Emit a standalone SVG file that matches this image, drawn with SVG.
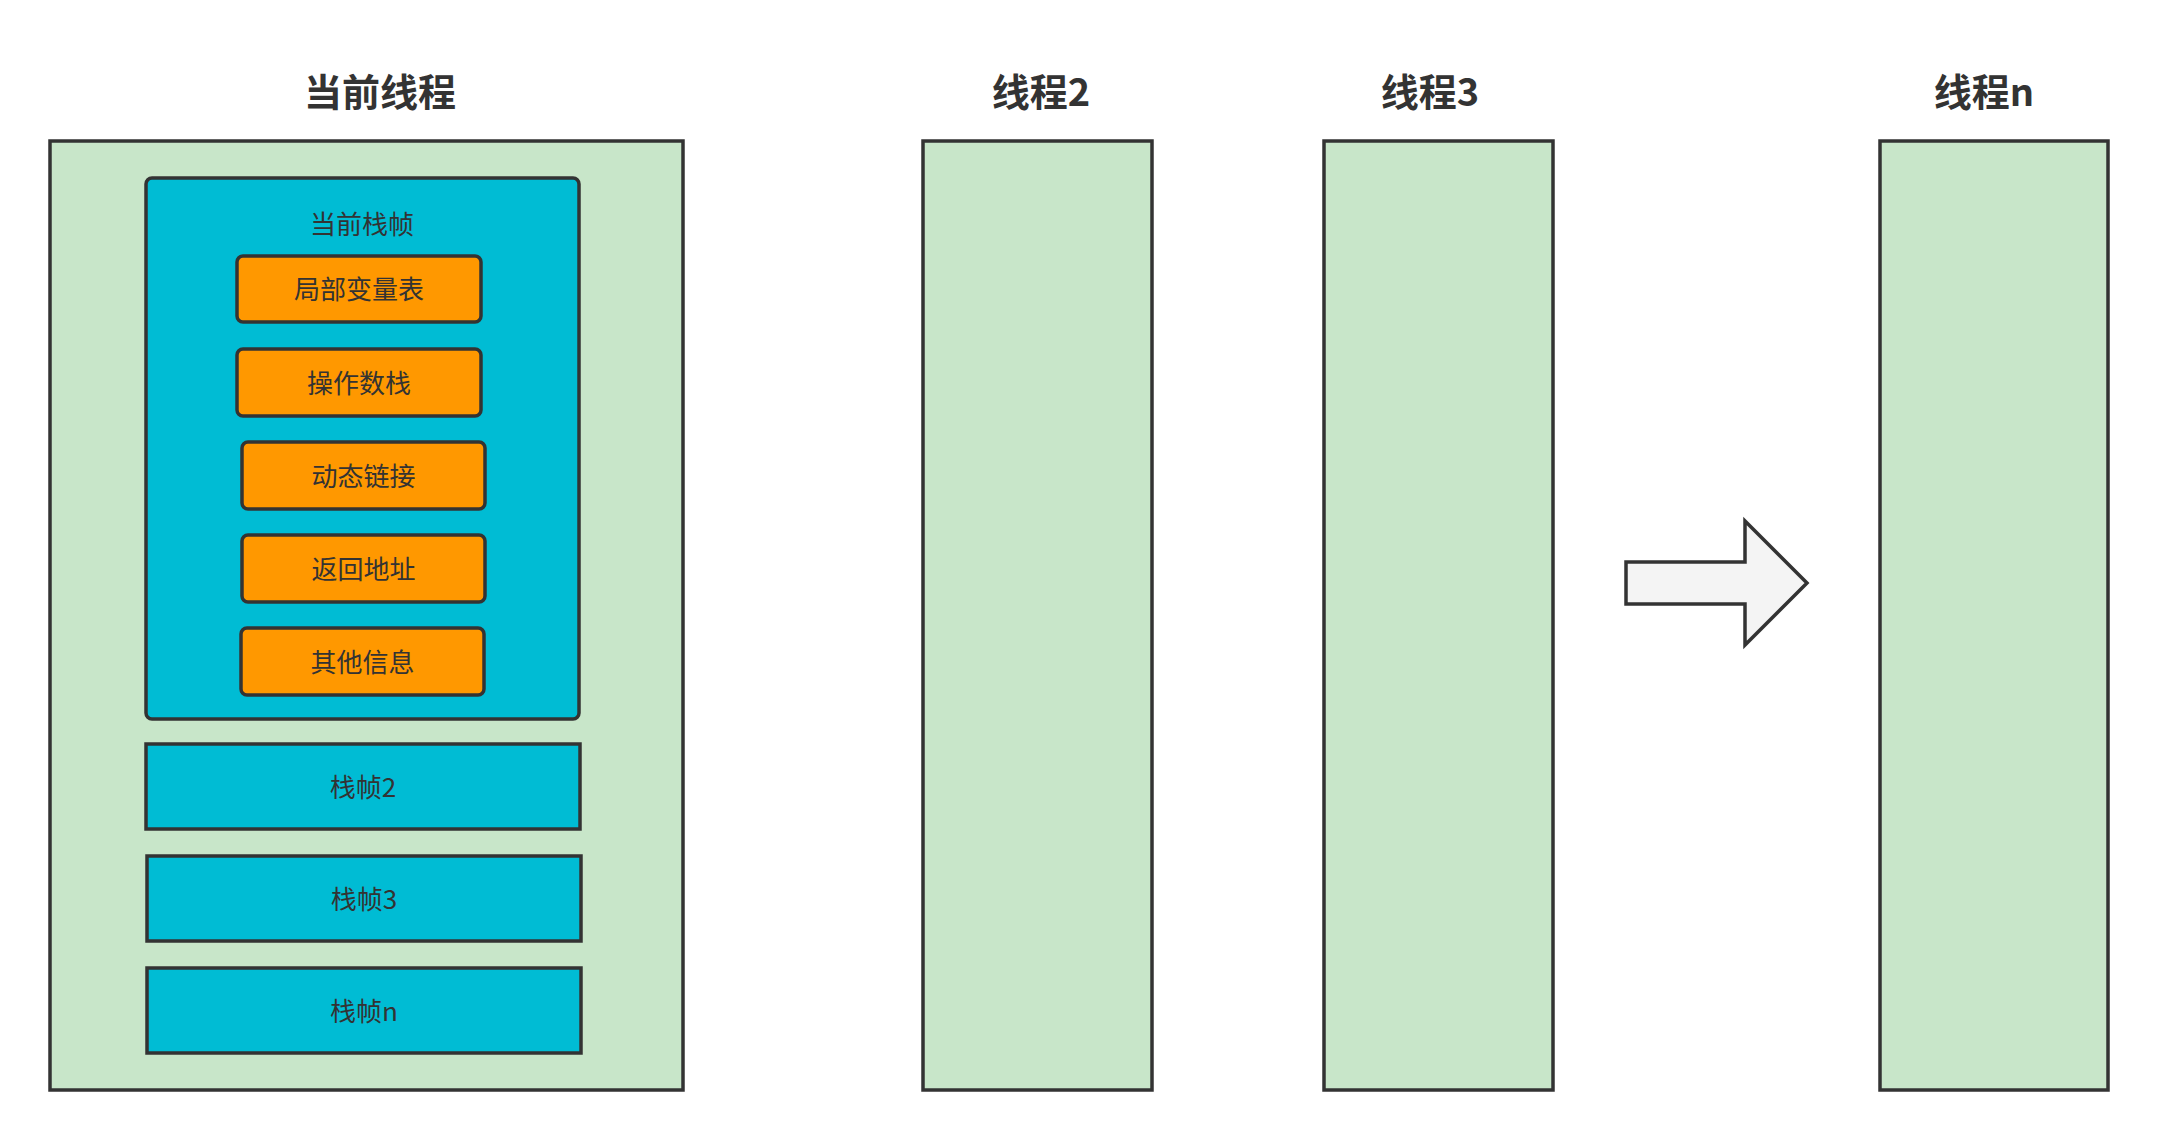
<svg xmlns="http://www.w3.org/2000/svg" width="2157" height="1141" viewBox="0 0 2157 1141">
<style>
.thread{fill:#C8E6C9;stroke:#333333;stroke-width:3.5}
.frame{fill:#00BCD4;stroke:#333333;stroke-width:3.5}
.item{fill:#FF9800;stroke:#333333;stroke-width:3.5}
.title{font-family:"Noto Sans CJK SC","Noto Sans",sans-serif;font-weight:bold;font-size:38px;fill:#333333;text-anchor:middle;dominant-baseline:central}
.lbl{font-family:"Noto Sans CJK SC","Noto Sans",sans-serif;font-size:26px;fill:#333333;text-anchor:middle;dominant-baseline:central}
.arrow{fill:#F4F4F4;stroke:#333333;stroke-width:3.5}
</style>
<rect width="2157" height="1141" fill="#ffffff"/>
<g id="thread-current">
<text class="title" x="380" y="89">当前线程</text>
<rect class="thread" x="50" y="141" width="633" height="949"/>
</g>
<g id="frame-current">
<rect class="frame" x="146" y="178" width="433" height="541" rx="6"/>
<text class="lbl" x="362" y="222.5">当前栈帧</text>
</g>
<g id="local-vars">
<rect class="item" x="237" y="256" width="244" height="66" rx="6"/>
<text class="lbl" x="359" y="287.5">局部变量表</text>
</g>
<g id="operand-stack">
<rect class="item" x="237" y="349" width="244" height="67" rx="6"/>
<text class="lbl" x="359" y="381">操作数栈</text>
</g>
<g id="dynamic-link">
<rect class="item" x="242" y="442" width="243" height="67" rx="6"/>
<text class="lbl" x="363.5" y="474">动态链接</text>
</g>
<g id="return-addr">
<rect class="item" x="242" y="535" width="243" height="67" rx="6"/>
<text class="lbl" x="363.5" y="567">返回地址</text>
</g>
<g id="other-info">
<rect class="item" x="241" y="628" width="243" height="67" rx="6"/>
<text class="lbl" x="362.5" y="660">其他信息</text>
</g>
<g id="frame-2">
<rect class="frame" x="146" y="744" width="434" height="85"/>
<text class="lbl" x="363" y="785">栈帧2</text>
</g>
<g id="frame-3">
<rect class="frame" x="147" y="856" width="434" height="85"/>
<text class="lbl" x="364" y="897">栈帧3</text>
</g>
<g id="frame-n">
<rect class="frame" x="147" y="968" width="434" height="85"/>
<text class="lbl" x="364" y="1009">栈帧n</text>
</g>
<g id="thread-2">
<text class="title" x="1041" y="89">线程2</text>
<rect class="thread" x="923" y="141" width="229" height="949"/>
</g>
<g id="thread-3">
<text class="title" x="1430" y="89">线程3</text>
<rect class="thread" x="1324" y="141" width="229" height="949"/>
</g>
<g id="thread-n">
<text class="title" x="1984" y="89">线程n</text>
<rect class="thread" x="1880" y="141" width="228" height="949"/>
</g>
<g id="connectors">
<polygon class="arrow" points="1626,562 1745,562 1745,521 1807,583 1745,645 1745,604 1626,604"/>
</g>
</svg>
